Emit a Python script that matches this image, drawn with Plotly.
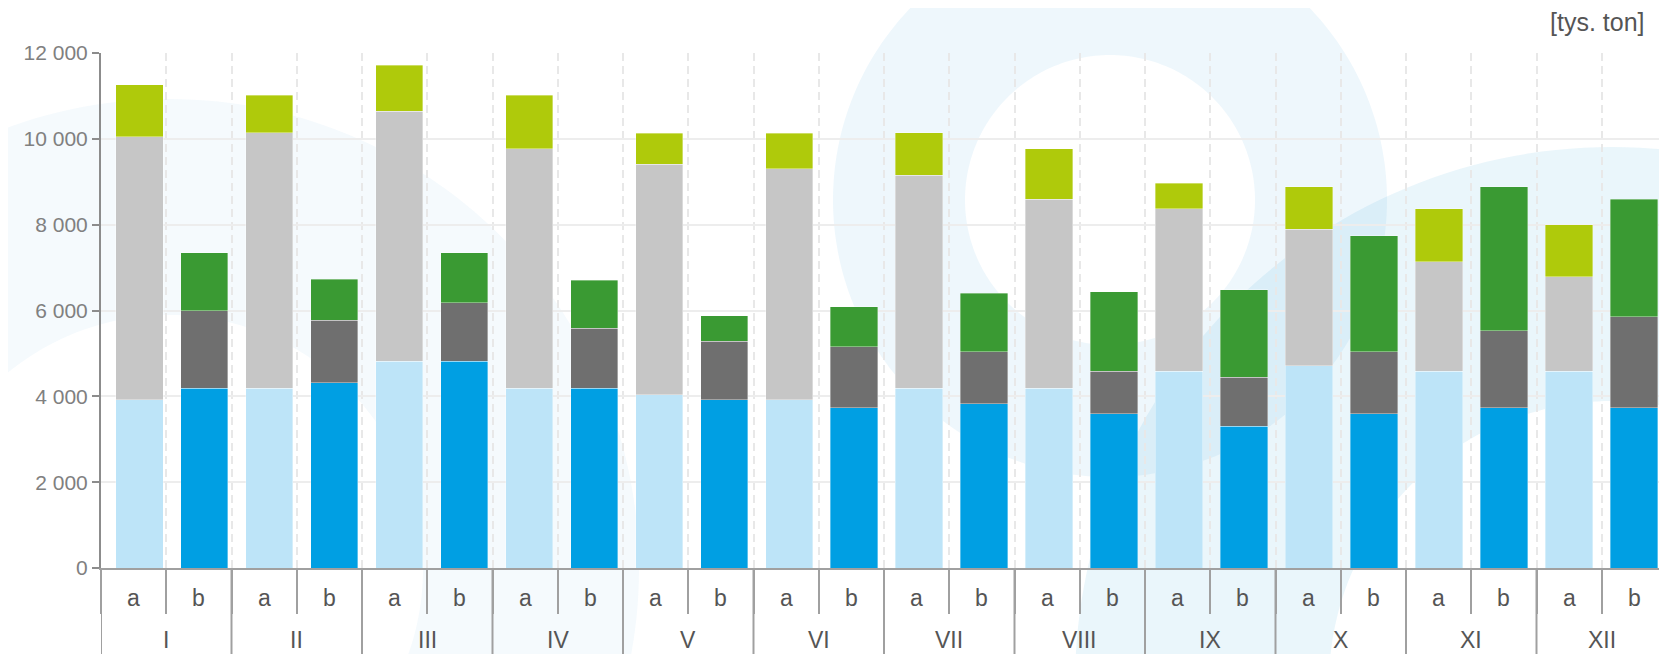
import numpy as np
import plotly.graph_objects as go

# ---------------- data ----------------
months = ["I", "II", "III", "IV", "V", "VI", "VII", "VIII", "IX", "X", "XI", "XII"]
sub = ["a", "b"]

# "a" columns (stacked from bottom)
a_light = [3920, 4190, 4820, 4190, 4040, 3920, 4190, 4190, 4580, 4710, 4580, 4580]
a_gray = [6130, 5950, 5820, 5580, 5370, 5380, 4960, 4400, 3790, 3180, 2560, 2210]
a_lime = [1210, 870, 1070, 1240, 720, 830, 990, 1180, 600, 990, 1230, 1210]

# "b" columns (stacked from bottom)
b_blue = [4190, 4320, 4820, 4190, 3920, 3730, 3830, 3590, 3300, 3590, 3730, 3730]
b_dark = [1810, 1450, 1360, 1400, 1360, 1430, 1210, 990, 1150, 1450, 1800, 2120]
b_green = [1350, 960, 1170, 1110, 600, 930, 1360, 1860, 2030, 2700, 3350, 2740]

y_ticks = [0, 2000, 4000, 6000, 8000, 10000, 12000]
unit_label = "[tys. ton]"

# ---------------- geometry (page has an 8px body margin) ----------------
OFF = 8
W, H = 1667 - OFF, 654 - OFF
ML, MR, MT, MB = 93, 0, 45, 86
PW = W - ML - MR
PH = H - MT - MB

cats = [f"{m} {s}" for m in months for s in sub]


def spread(vals, which):
    out = []
    for i, m in enumerate(months):
        for s in sub:
            out.append(vals[i] if s == which else None)
    return out


series = [
    (a_light, "a", "#BDE4F8"),
    (a_gray, "a", "#C6C6C6"),
    (a_lime, "a", "#AFCA0B"),
    (b_blue, "b", "#009FE3"),
    (b_dark, "b", "#6F6F6F"),
    (b_green, "b", "#3A9A33"),
]

fig = go.Figure()
for vals, which, col in series:
    fig.add_trace(go.Bar(
        x=cats,
        y=spread(vals, which),
        xaxis="x2", yaxis="y",
        marker=dict(color=col, line=dict(width=0.6, color="rgba(255,255,255,0.6)")),
        width=0.728,
        showlegend=False,
        hoverinfo="skip",
    ))


# ---------------- decorative background rings ----------------
def px2paper(px, py):
    # px, py in window pixels
    return (px - OFF - ML) / PW, (H - MB - (py - OFF)) / PH


def circle_path(cx, cy, r, reverse=False, n=240):
    t = np.linspace(0, 2 * np.pi, n, endpoint=False)
    if reverse:
        t = t[::-1]
    pts = [px2paper(cx + r * np.cos(a), cy + r * np.sin(a)) for a in t]
    s = "M %.5f,%.5f " % pts[0]
    s += " ".join("L %.5f,%.5f" % p for p in pts[1:])
    return s + " Z"


def ring(cx, cy, r_out, r_in, color):
    return dict(
        type="path", xref="paper", yref="paper", layer="below",
        path=circle_path(cx, cy, r_out) + " " + circle_path(cx, cy, r_in, reverse=True),
        fillcolor=color, line=dict(width=0), fillrule="evenodd",
    )


shapes = [
    ring(169, 569, 470, 254, "rgba(20,130,200,0.045)"),
    ring(1110, 200, 277, 145, "rgba(20,140,215,0.07)"),
    ring(1612, 684, 537, 283, "rgba(20,150,210,0.09)"),
]

# month dividers in the label area
for i in range(len(months) + 1):
    shapes.append(dict(
        type="line", xref="x", yref="paper",
        x0=2 * i - 0.5, x1=2 * i - 0.5, y0=0, y1=-0.25,
        line=dict(color="#A0A0A0", width=2), layer="above",
    ))

annotations = [dict(
    text=unit_label, xref="paper", yref="paper",
    x=px2paper(1646, 0)[0], y=px2paper(0, 22)[1],
    xanchor="right", yanchor="middle", showarrow=False,
    font=dict(size=25, color="#555555"),
)]

y_sub = px2paper(0, 598)[1]
y_mon = px2paper(0, 640)[1]
for i, m in enumerate(months):
    for j, s in enumerate(sub):
        annotations.append(dict(
            text=s, xref="x", yref="paper", x=2 * i + j, y=y_sub,
            xanchor="center", yanchor="middle", showarrow=False,
            font=dict(size=23, color="#555555"),
        ))
    annotations.append(dict(
        text=m, xref="x", yref="paper", x=2 * i + 0.5, y=y_mon,
        xanchor="center", yanchor="middle", showarrow=False,
        font=dict(size=23, color="#555555"),
    ))

# bars use a slightly tighter pitch than the slot grid (as in the source chart)
bar_pitch = 64.98
bar0_center = 139.35 - (ML + OFF)
x2_start = -bar0_center / bar_pitch
x2_end = x2_start + PW / bar_pitch

fig.update_layout(
    width=W, height=H,
    margin=dict(l=ML, r=MR, t=MT, b=MB, pad=0, autoexpand=False),
    paper_bgcolor="white",
    plot_bgcolor="rgba(0,0,0,0)",
    barmode="stack",
    separators=", ",
    font=dict(family="Liberation Sans, Arial, sans-serif", color="#555555"),
    shapes=shapes,
    annotations=annotations,
    xaxis=dict(
        type="category",
        categoryorder="array", categoryarray=cats,
        range=[-0.5, len(cats) - 0.5],
        tickson="boundaries",
        ticks="outside", ticklen=44, tickwidth=2, tickcolor="#A0A0A0",
        showticklabels=False,
        showline=True, linecolor="#A0A0A0", linewidth=2,
        showgrid=True, gridcolor="#E8E8E8", gridwidth=2, griddash="8px,5px",
        automargin=False,
    ),
    xaxis2=dict(
        type="category",
        categoryorder="array", categoryarray=cats,
        range=[x2_start, x2_end],
        overlaying="x", anchor="y",
        visible=False,
    ),
    yaxis=dict(
        range=[0, 12000],
        tickvals=y_ticks,
        tickformat=",d",
        ticks="outside", ticklen=7, tickwidth=2, tickcolor="#8C8C8C",
        showline=True, linecolor="#8C8C8C", linewidth=2,
        showgrid=True, gridcolor="#EDEDED", gridwidth=2,
        zeroline=False,
        tickfont=dict(size=21, color="#808080"),
        automargin=False,
    ),
)

fig.write_html("out.html")
